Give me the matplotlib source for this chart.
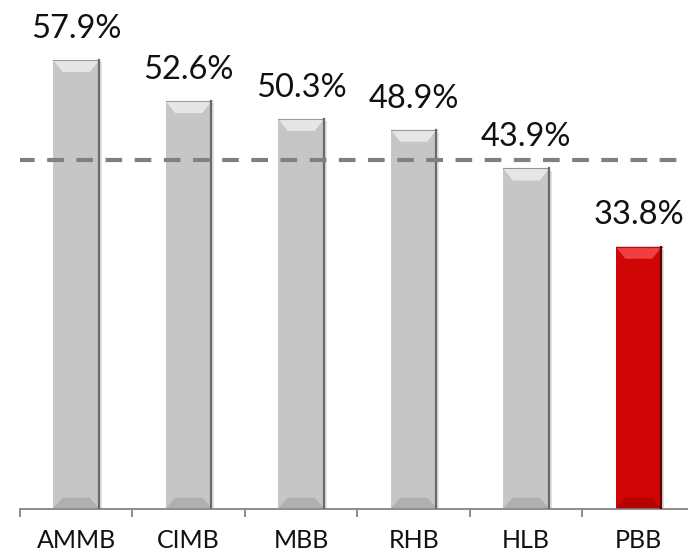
import matplotlib
matplotlib.use("Agg")
import matplotlib.pyplot as plt
from matplotlib.patches import Polygon

# data
banks = ["AMMB", "CIMB", "MBB", "RHB", "HLB", "PBB"]
ratio = [57.9, 52.6, 50.3, 48.9, 43.9, 33.8]
labels = ["57.9%", "52.6%", "50.3%", "48.9%", "43.9%", "33.8%"]
avg_line = 45.0

plt.rcParams['font.family'] = ['Lato', 'DejaVu Sans']

fig = plt.figure(figsize=(6.88, 5.57), dpi=100)
ax = fig.add_axes([20 / 688, 48.5 / 557, 675 / 688, 508.5 / 557])

x = list(range(len(banks)))
bw = 0.41
face = ['#c6c6c6'] * 5 + ['#d00606']
light = ['#e6e6e6'] * 5 + ['#ee4040']
dark = ['#9a9a9a'] * 5 + ['#9a0000']
edge = ['#6a6a6a'] * 5 + ['#5a0000']

bars = ax.bar(x, ratio, width=bw, color=face, edgecolor='none', zorder=2)

# bevel shading on each bar
bev_y = 1.55
bev_x = 0.085
for i, b in enumerate(bars):
    l = b.get_x()
    r = l + b.get_width()
    h = b.get_height()
    # soft shadow
    ax.bar(x[i] + 0.012, h, width=bw + 0.02, bottom=-0.3, color='#000000',
           alpha=0.12, zorder=1)
    top = Polygon([(l, h), (r, h), (r - bev_x, h - bev_y), (l + bev_x, h - bev_y)],
                  closed=True, facecolor=light[i], edgecolor='none', zorder=3)
    ax.add_patch(top)
    bot = Polygon([(l, 0), (r, 0), (r - bev_x, bev_y * 0.9), (l + bev_x, bev_y * 0.9)],
                  closed=True, facecolor=dark[i], edgecolor='none', alpha=0.5, zorder=3)
    ax.add_patch(bot)
    ax.plot([r - 0.006, r - 0.006], [0, h], color=edge[i], lw=1.6, zorder=4)
    ax.plot([l, r], [h, h], color=edge[i], lw=0.8, alpha=0.6, zorder=4)
    ax.annotate(labels[i], (x[i], h), xytext=(0, 16), textcoords='offset points',
                ha='center', va='baseline', fontsize=23.5, color='#111111')

ax.axhline(avg_line, xmin=-2 / 675, xmax=658 / 675, color='#808080', lw=3,
           linestyle=(0, (4, 3)), zorder=5)

ax.set_xlim(-0.5, len(banks) - 0.5)
ax.set_ylim(0, 65.65)
for s in ['top', 'left', 'right']:
    ax.spines[s].set_visible(False)
ax.spines['bottom'].set_color('#8c8c8c')
ax.spines['bottom'].set_linewidth(1.4)
ax.set_yticks([])
ax.set_xticks(x)
ax.set_xticklabels(banks, fontsize=18, color='#111111')
ax.tick_params(axis='x', which='major', length=0, pad=15)
ax.set_xticks([i - 0.5 for i in range(len(banks) + 1)], minor=True)
ax.tick_params(axis='x', which='minor', length=6, width=1.4, color='#8c8c8c')

fig.savefig("out.png", dpi=100)
